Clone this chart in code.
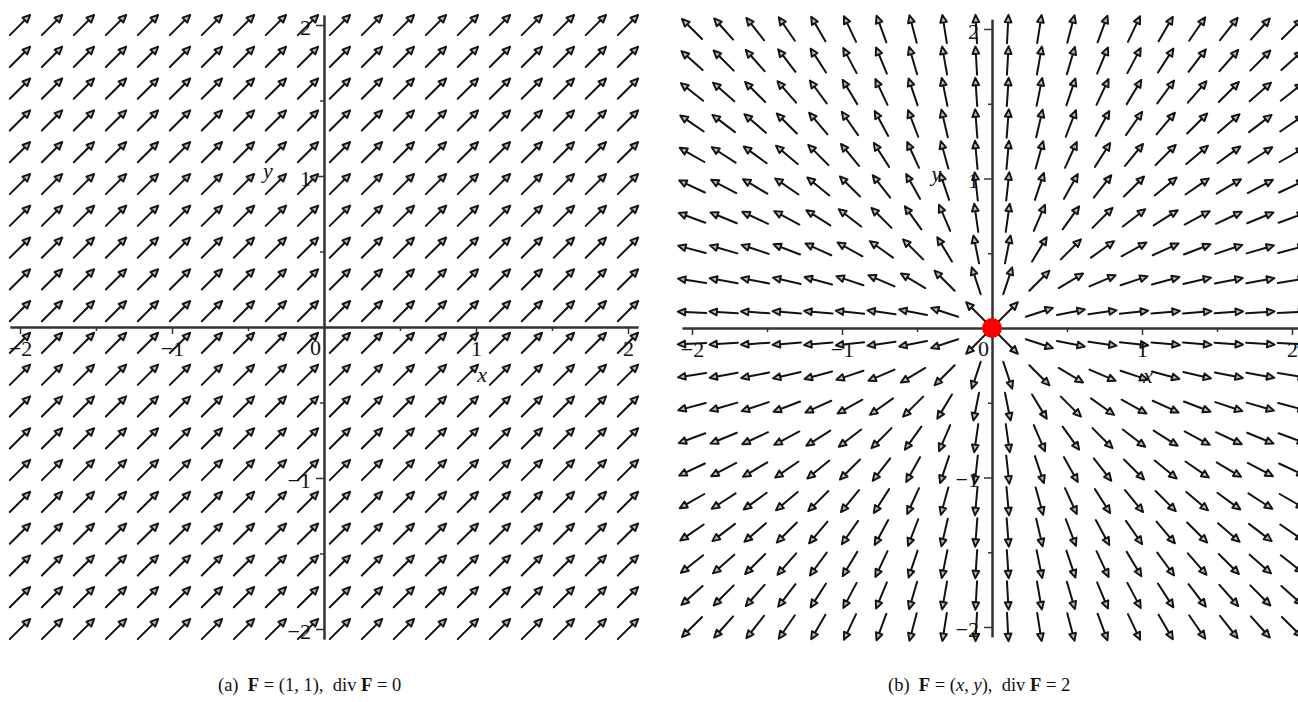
<!DOCTYPE html>
<html>
<head>
<meta charset="utf-8">
<script src="https://cdn.jsdelivr.net/npm/d3@7"></script>
<style>
  body { margin: 0; background: #fff; }
  svg text { font-family: "Liberation Serif", "DejaVu Serif", serif; }
</style>
</head>
<body>
<div id="chart"></div>
<script>
// Grid points of the field plot: 20 per axis over [-2, 2].
const gridValues = [
  -2, -1.789, -1.579, -1.368, -1.158, -0.947, -0.737, -0.526, -0.316, -0.105,
  0.105, 0.316, 0.526, 0.737, 0.947, 1.158, 1.368, 1.579, 1.789, 2,
];
const majorTicks = [-2, -1, 1, 2];
const minorTicks = [-1.5, -0.5, 0.5, 1.5];
const tickLabels = ["−2", "−1", "1", "2"];

// Field (a) is the constant vector (1, 1); field (b) is (x, y).
const fieldA = [1, 1];
const fieldB = (x, y) => [x, y];

const width = 1298;
const height = 702;

// Half the visible extent of each plot, a bit wider than the grid.
const extent = 2.066;

const svg = d3
  .select("#chart")
  .append("svg")
  .attr("width", width)
  .attr("height", height)
  .style("background", "#fff");

/**
 * Draws one field plot with its axes.
 */
function drawPanel(opts) {
  const { cx, cy, kx, ky, field, dot } = opts;

  const x = d3
    .scaleLinear()
    .domain([-extent, extent])
    .range([cx - extent * kx, cx + extent * kx]);
  const y = d3
    .scaleLinear()
    .domain([-extent, extent])
    .range([cy + extent * ky, cy - extent * ky]);

  const g = svg.append("g");

  // Arrows, all drawn with the same length, centred on the grid point.
  const halfLen = 0.095;
  const points = [];
  gridValues.forEach((gx) =>
    gridValues.forEach((gy) => points.push([gx, gy]))
  );

  const arrows = g.append("g").attr("class", "arrows");
  points.forEach(([gx, gy]) => {
    const [vx, vy] = typeof field === "function" ? field(gx, gy) : field;
    const n = Math.hypot(vx, vy) || 1;
    const ux = vx / n;
    const uy = vy / n;
    const x0 = x(gx - ux * halfLen);
    const y0 = y(gy - uy * halfLen);
    const x1 = x(gx + ux * halfLen);
    const y1 = y(gy + uy * halfLen);

    // Unit direction in pixels for the head.
    const dx = x1 - x0;
    const dy = y1 - y0;
    const len = Math.hypot(dx, dy);
    const px = dx / len;
    const py = dy / len;
    const headLen = 7.5;
    const headHalf = 3.4;
    const bx = x1 - px * headLen;
    const by = y1 - py * headLen;

    arrows
      .append("line")
      .attr("x1", x0)
      .attr("y1", y0)
      .attr("x2", bx)
      .attr("y2", by)
      .attr("stroke", "#111")
      .attr("stroke-width", 2)
      .attr("stroke-linecap", "round");

    arrows
      .append("path")
      .attr(
        "d",
        `M${x1},${y1}L${bx - py * headHalf},${by + px * headHalf}` +
          `L${bx + py * headHalf},${by - px * headHalf}Z`
      )
      .attr("fill", "#bbb")
      .attr("stroke", "#111")
      .attr("stroke-width", 1.9)
      .attr("stroke-linejoin", "round");
  });

  // Axes through the origin.
  const axisColor = "#333";

  const xMajor = g
    .append("g")
    .attr("transform", `translate(0,${y(0)})`)
    .call(
      d3
        .axisBottom(x)
        .tickValues(majorTicks)
        .tickSize(7)
        .tickSizeOuter(0)
        .tickPadding(6)
        .tickFormat((d, i) => tickLabels[i])
    );
  const xMinor = g
    .append("g")
    .attr("transform", `translate(0,${y(0)})`)
    .call(
      d3
        .axisBottom(x)
        .tickValues(minorTicks)
        .tickSize(4)
        .tickSizeOuter(0)
        .tickFormat("")
    );
  const yMajor = g
    .append("g")
    .attr("transform", `translate(${x(0)},0)`)
    .call(
      d3
        .axisLeft(y)
        .tickValues(majorTicks)
        .tickSize(8)
        .tickSizeOuter(0)
        .tickPadding(5)
        .tickFormat((d, i) => tickLabels[i])
    );
  const yMinor = g
    .append("g")
    .attr("transform", `translate(${x(0)},0)`)
    .call(
      d3
        .axisLeft(y)
        .tickValues(minorTicks)
        .tickSize(4)
        .tickSizeOuter(0)
        .tickFormat("")
    );

  [xMajor, xMinor, yMajor, yMinor].forEach((a) => {
    a.select(".domain").attr("stroke", axisColor).attr("stroke-width", 2);
    a.selectAll(".tick line").attr("stroke", axisColor).attr("stroke-width", 1.5);
    a.selectAll(".tick text")
      .attr("fill", "#111")
      .attr("font-size", 22)
      .attr("font-family", "Liberation Serif");
  });
  yMajor.selectAll(".tick text").attr("dy", "0.42em");

  // Origin label sits just left of the vertical axis.
  g.append("text")
    .attr("x", x(0) - 3)
    .attr("y", y(0) + 28)
    .attr("text-anchor", "end")
    .attr("font-size", 22)
    .attr("fill", "#111")
    .text("0");

  // Axis names.
  g.append("text")
    .attr("x", x(1.04))
    .attr("y", y(0) + 55)
    .attr("text-anchor", "middle")
    .attr("font-size", 22)
    .attr("font-style", "italic")
    .attr("fill", "#111")
    .text("x");
  g.append("text")
    .attr("x", x(-0.37))
    .attr("y", y(1) + 2)
    .attr("text-anchor", "middle")
    .attr("font-size", 22)
    .attr("font-style", "italic")
    .attr("fill", "#111")
    .text("y");

  if (dot) {
    g.append("circle")
      .attr("cx", x(0))
      .attr("cy", y(0))
      .attr("r", 10)
      .attr("fill", "#ff0000");
  }
}

drawPanel({ cx: 324, cy: 327, kx: 152, ky: 151, field: fieldA, dot: false });
drawPanel({ cx: 992, cy: 328, kx: 150, ky: 149.5, field: fieldB, dot: true });

/**
 * Captions.
 */
function caption(xPos, parts) {
  const t = svg
    .append("text")
    .attr("x", xPos)
    .attr("y", 691)
    .attr("font-size", 18.5)
    .attr("fill", "#111")
    .attr("xml:space", "preserve");
  parts.forEach(([s, style]) => {
    const span = t.append("tspan").text(s);
    if (style === "b") span.attr("font-weight", "bold");
    if (style === "i") span.attr("font-style", "italic");
  });
}

caption(218, [
  ["(a)  "], ["F", "b"], [" = (1, 1),  div "], ["F", "b"], [" = 0"],
]);
caption(888, [
  ["(b)  "], ["F", "b"], [" = ("], ["x", "i"], [", "], ["y", "i"],
  ["),  div "], ["F", "b"], [" = 2"],
]);
</script>
</body>
</html>
